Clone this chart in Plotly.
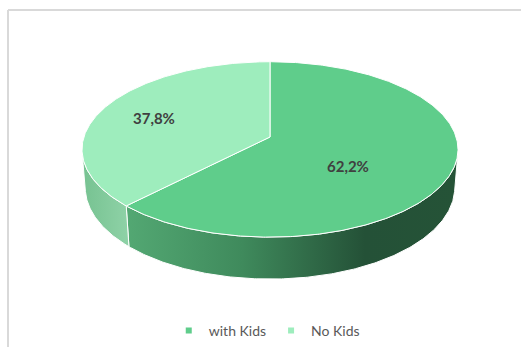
import numpy as np
import plotly.graph_objects as go

# Share of households
categories = ["with Kids", "No Kids"]
values = [62.2, 37.8]
value_labels = ["62,2%", "37,8%"]

# Styling
top_colors = ["#5fcd8b", "#9eedbd"]
side_scales = [
    [[0.0, "#53a873"], [0.35, "#3f8a5c"], [0.72, "#245137"], [1.0, "#255337"]],
    [[0.0, "#76c291"], [1.0, "#8fd2a7"]],
]
label_xy = [(348, 166), (154, 118)]

W, H = 521, 347

# Projection of a tilted disk (perspective) onto the page
CX, CY = 270.0, 137.0          # page position of the disk centre
TILT = np.radians(27.5)        # camera elevation
DIST = 6.26                    # camera distance (in disk radii)
FOCAL = 1165.0                 # focal length in pixels
THICK = 0.233                  # disk thickness (in disk radii)
s, c = np.sin(TILT), np.cos(TILT)


def project(phi, height):
    X = np.cos(phi)
    Z = np.sin(phi)
    depth = DIST + Z * c - height * s
    up = height * c + Z * s
    return CX + FOCAL * X / depth, CY - FOCAL * up / depth


def project_center(height):
    depth = DIST - height * s
    up = height * c
    return CX, CY - FOCAL * up / depth


fig = go.Figure()

total = float(sum(values))
fracs = np.array(values) / total
starts = np.concatenate([[0.0], np.cumsum(fracs)[:-1]])

sides = []
tops = []
for i, (f, st) in enumerate(zip(fracs, starts)):
    # slices run clockwise from 12 o'clock
    a0 = np.pi / 2 - 2 * np.pi * st
    a1 = np.pi / 2 - 2 * np.pi * (st + f)
    n = max(int(600 * f), 8)
    phi = np.linspace(a0, a1, n)

    # top face
    tx, ty = project(phi, 0.0)
    cx0, cy0 = project_center(0.0)
    tops.append((np.concatenate([[cx0], tx, [cx0]]),
                 np.concatenate([[cy0], ty, [cy0]]), i))

    # visible part of the rim (facing the camera)
    vis = 1 + DIST * c * np.sin(phi) < 0
    if vis.any():
        idx = np.where(vis)[0]
        runs = np.split(idx, np.where(np.diff(idx) != 1)[0] + 1)
        for run in runs:
            p = phi[run]
            ux, uy = project(p, 0.0)
            lx, ly = project(p, -THICK)
            sx = np.concatenate([ux, lx[::-1], ux[:1]])
            sy = np.concatenate([uy, ly[::-1], uy[:1]])
            sides.append((sx, sy, i))

for sx, sy, i in sides:
    fig.add_trace(go.Scatter(
        x=sx, y=sy, mode="lines", fill="toself",
        fillgradient=dict(type="horizontal", colorscale=side_scales[i]),
        line=dict(color="white", width=1),
        hoverinfo="skip", showlegend=False,
    ))

for tx, ty, i in tops:
    fig.add_trace(go.Scatter(
        x=tx, y=ty, mode="lines", fill="toself",
        fillcolor=top_colors[i],
        line=dict(color="white", width=1),
        hoverinfo="skip", showlegend=False,
    ))

# legend entries
for name, col in zip(categories, top_colors):
    fig.add_trace(go.Scatter(
        x=[None], y=[None], mode="markers", name=name,
        marker=dict(symbol="square", size=6, color=col),
    ))

for (lx, ly), txt in zip(label_xy, value_labels):
    fig.add_annotation(
        x=lx, y=ly, text=f"<b>{txt}</b>", showarrow=False,
        font=dict(family="Lato", size=15, color="#404040"),
        xanchor="center", yanchor="middle",
    )

# chart area border (top and left edges)
fig.add_shape(type="line", xref="x", yref="y", x0=8, y0=10, x1=W + 5, y1=10,
              line=dict(color="#d9d9d9", width=2))
fig.add_shape(type="line", xref="x", yref="y", x0=8, y0=10, x1=8, y1=H + 5,
              line=dict(color="#d9d9d9", width=2))

fig.update_xaxes(range=[0, W], visible=False, fixedrange=True)
fig.update_yaxes(range=[H, 0], visible=False, fixedrange=True)

fig.update_layout(
    width=W, height=H,
    margin=dict(l=0, r=0, t=0, b=0),
    paper_bgcolor="white", plot_bgcolor="white",
    showlegend=True,
    legend=dict(
        orientation="h", x=0.512, xanchor="center",
        y=1 - 331 / H, yanchor="middle",
        font=dict(family="Lato", size=14, color="#595959"),
        itemwidth=30, bgcolor="rgba(0,0,0,0)",
        tracegroupgap=0,
    ),
)

fig.write_html("out.html", include_plotlyjs=True, config={"displayModeBar": False})
